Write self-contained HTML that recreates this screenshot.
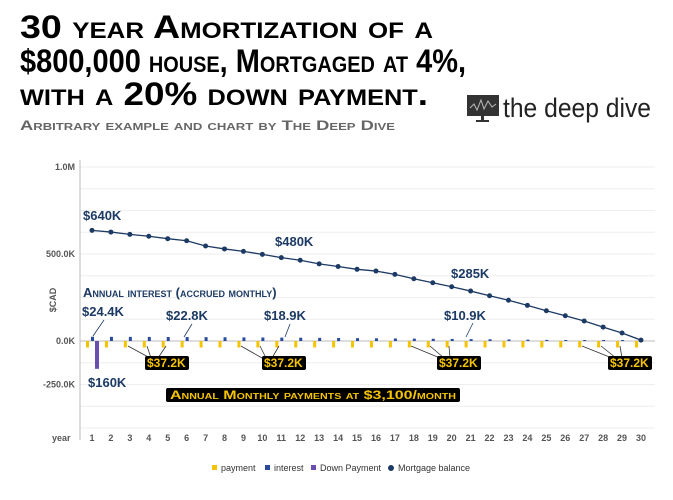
<!DOCTYPE html>
<html><head><meta charset="utf-8"><style>
body{margin:0;background:#fff;width:673px;height:500px;overflow:hidden}
svg{display:block}
.t{font-family:"Liberation Sans",sans-serif;font-weight:bold;font-variant:small-caps}
.ax{font-family:"Liberation Sans",sans-serif;font-size:9px;fill:#555;font-weight:bold}
.an{font-family:"Liberation Sans",sans-serif;font-weight:bold;font-variant:small-caps;fill:#1c3a64;font-size:13px}
.ay{font-family:"Liberation Sans",sans-serif;font-weight:bold;font-variant:small-caps;fill:#f5c400;font-size:12px}
</style></head><body>
<svg id="c" width="673" height="500" viewBox="0 0 673 500">
<text class="t" x="20" y="38" font-size="32" textLength="413" lengthAdjust="spacingAndGlyphs">30 year Amortization of a</text>
<text class="t" x="20" y="72" font-size="32" textLength="446" lengthAdjust="spacingAndGlyphs">$800,000 house, Mortgaged at 4%,</text>
<text class="t" x="20" y="105" font-size="32" textLength="408" lengthAdjust="spacingAndGlyphs">with a 20% down payment.</text>
<text class="t" x="20" y="130" font-size="14" fill="#666" textLength="375" lengthAdjust="spacingAndGlyphs">Arbitrary example and chart by The Deep Dive</text>
<g>
<rect x="467" y="95" width="32" height="21" fill="#333"/>
<polyline points="470,108 474,104 477,110 481,100 484,109 488,101 492,107 496,104" fill="none" stroke="#bbb" stroke-width="1"/>
<rect x="481" y="116" width="3" height="4" fill="#333"/><rect x="476" y="120" width="13" height="2" fill="#333"/>
<text x="503" y="117" font-family="Liberation Sans,sans-serif" font-size="27" fill="#222" textLength="148" lengthAdjust="spacingAndGlyphs">the deep dive</text>
</g>
<g id="grid"></g><g id="marks"></g><g id="ann"></g>
<g font-family="Liberation Sans,sans-serif" font-size="9" fill="#333">
<rect x="212" y="465" width="5" height="5" fill="#f5c400"/><text x="221" y="471">payment</text>
<rect x="265" y="465" width="5" height="5" fill="#2a4b9b"/><text x="274" y="471">interest</text>
<rect x="311" y="465" width="5" height="5" fill="#6a4fb0"/><text x="320" y="471">Down Payment</text>
<circle cx="391" cy="468" r="3" fill="#1c3a64"/><text x="398" y="471">Mortgage balance</text>
</g>
</svg>
<script>
const years=[1,2,3,4,5,6,7,8,9,10,11,12,13,14,15,16,17,18,19,20,21,22,23,24,25,26,27,28,29,30];
const balance=[636,626,613,602,588,576,546,529,515,498,479,464,443,428,412,402,383,358,335,312,287,260,234,205,174,145,115,80,46,5];
const interest=[24.4,24.0,23.7,23.4,23.1,22.8,22.1,21.4,20.8,20.2,19.5,18.9,18.0,17.2,16.4,15.5,14.6,13.7,12.8,11.9,10.9,9.9,8.8,7.7,6.5,5.3,4.1,2.8,1.5,0.5];
const payment=[-37.2,-37.2,-37.2,-37.2,-37.2,-37.2,-37.2,-37.2,-37.2,-37.2,-37.2,-37.2,-37.2,-37.2,-37.2,-37.2,-37.2,-37.2,-37.2,-37.2,-37.2,-37.2,-37.2,-37.2,-37.2,-37.2,-37.2,-37.2,-37.2,-37.2];
const downPayment=[-160];
const yTicks=[1000,500,0,-250];
const yTickLabels=["1.0M","500.0K","0.0K","-250.0K"];
const NS="http://www.w3.org/2000/svg";
const X=y=>92+(y-1)*(641-92)/29;
const Y=v=>341-v*0.174;
function mk(tag,attrs,parent){const e=document.createElementNS(NS,tag);for(const k in attrs)e.setAttribute(k,attrs[k]);parent.appendChild(e);return e;}
const grid=document.getElementById('grid'),marks=document.getElementById('marks'),ann=document.getElementById('ann');
for(let v=1000;v>=-500;v-=125){const l=mk('line',{x1:80,x2:655,y1:Y(v),y2:Y(v),stroke:v===0?'#bbb':'#eee','stroke-width':1},grid);

}
mk('line',{x1:80,x2:80,y1:160,y2:440,stroke:'#bbb'},grid);
yTicks.forEach((v,i)=>{const t=mk('text',{class:'ax',x:75,y:Y(v)+3,'text-anchor':'end'},grid);t.textContent=yTickLabels[i];

});
const ya=mk('text',{class:'ax',x:0,y:0,transform:'translate(56,300) rotate(-90)','font-size':6,'font-weight':'normal','text-anchor':'middle'},grid);ya.textContent='$CAD';


const yl=mk('text',{class:'ax',x:52,y:441,'font-size':10,fill:'#333'},grid);yl.textContent='year';


years.forEach((yr,i)=>{const t=mk('text',{class:'ax',x:X(yr),y:441,'text-anchor':'middle','font-size':10,fill:'#444'},grid);t.textContent=yr;


const p=mk('rect',{x:X(yr)-6,y:Y(0),width:3,height:Y(payment[i])-Y(0),fill:'#f5c400'},marks);


const h=Math.max(1,Y(0)-Y(interest[i]));
const b=mk('rect',{x:X(yr)-1,y:Y(0)-h,width:3,height:h,fill:'#2a4b9b'},marks);

});
downPayment.forEach((v,i)=>{const d=mk('rect',{x:X(years[i])+3,y:Y(0),width:4,height:Y(v)-Y(0),fill:'#6a4fb0'},marks);

});
const pl=mk('polyline',{points:years.map((y,i)=>X(y)+','+Y(balance[i])).join(' '),fill:'none',stroke:'#1c3a64','stroke-width':1.3},marks);


years.forEach((yr,i)=>{const c=mk('circle',{cx:X(yr),cy:Y(balance[i]),r:2.5,fill:'#1c3a64'},marks);

});
function lab(x,y,s,cls,fill){const t=mk('text',{class:cls,x:x,y:y},ann);if(fill)t.setAttribute('fill',fill);t.textContent=s;

return t;}
function ln(x1,y1,x2,y2,c){const l=mk('line',{x1:x1,y1:y1,x2:x2,y2:y2,stroke:c,'stroke-width':0.8},ann);

}
ln(93,336,104,320,'#1c3a64');ln(192,324,184,337,'#1c3a64');ln(290,324,285,337,'#1c3a64');ln(473,323,466,337,'#1c3a64');
[[128,346,150,358],[147,346,151,358],[166,346,158,358],
 [241,346,262,358],[260,346,266,358],[279,346,272,358],
 [411,346,440,358],[430,346,444,358],[449,346,450,358],
 [582,346,612,358],[601,346,616,358],[620,346,622,358]].forEach(a=>ln(a[0],a[1],a[2],a[3],'#333'));
lab(83,220,'$640K','an');lab(275,246,'$480K','an');lab(451,278,'$285K','an');
lab(83,297,'Annual interest (accrued monthly)','an');
lab(82,316,'$24.4K','an');lab(166,320,'$22.8K','an');lab(264,320,'$18.9K','an');lab(444,320,'$10.9K','an');
lab(88,387,'$160K','an','#6a4fb0');
[[145,356],[262,356],[437,356],[608,356]].forEach(([x,y])=>{mk('rect',{x:x,y:y,width:44,height:14,rx:2,fill:'#000'},ann);lab(x+2,y+11,'$37.2K','ay');});
mk('rect',{x:166,y:388,width:294,height:14,rx:2,fill:'#000'},ann);
const a=lab(170,399,'Annual Monthly payments at $3,100/month','ay');a.setAttribute('textLength','286');a.setAttribute('lengthAdjust','spacingAndGlyphs');
</script>
</body></html>
